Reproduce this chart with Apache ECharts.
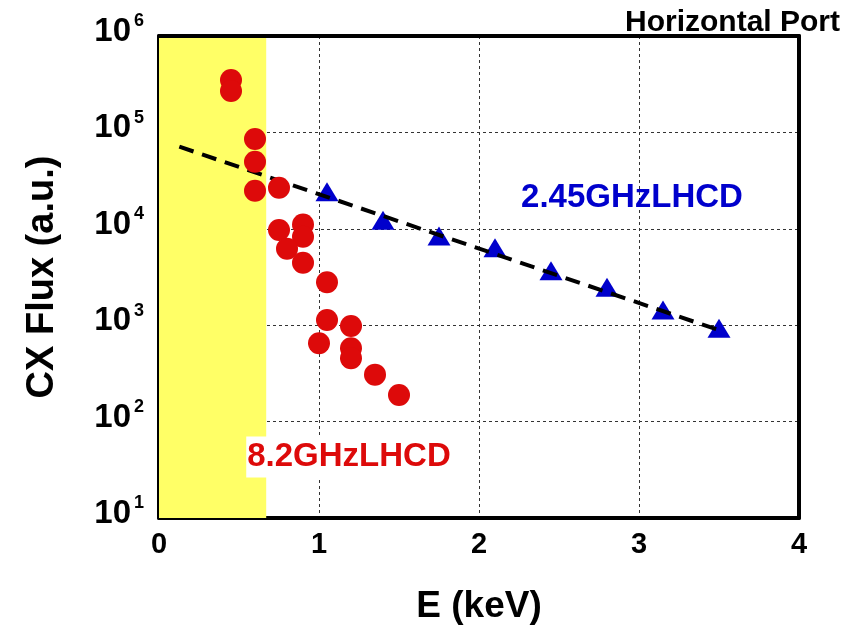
<!DOCTYPE html>
<html>
<head>
<meta charset="utf-8">
<script src="https://cdn.jsdelivr.net/npm/echarts@6/dist/echarts.min.js"></script>
<style>html,body{margin:0;padding:0;background:#fff}#c{width:856px;height:625px}</style>
</head>
<body>
<div id="c"></div>
<script>
// Data
const xTicks = [0, 1, 2, 3, 4];
const yTickExponents = [1, 2, 3, 4, 5, 6];
const lhcd82_E = [0.45, 0.45, 0.60, 0.60, 0.60, 0.75, 0.75, 0.90, 0.90, 0.80, 0.90, 1.05, 1.05, 1.20, 1.00, 1.20, 1.20, 1.35, 1.50];
const lhcd82_flux = [350000, 269000, 85500, 49700, 24800, 26700, 9700, 11100, 8280, 6220, 4450, 2790, 1130, 982, 649, 575, 454, 307, 189];
const lhcd245_E = [1.05, 1.40, 1.75, 2.10, 2.45, 2.80, 3.15, 3.50];
const lhcd245_flux = [24300, 12300, 8420, 6370, 3670, 2470, 1440, 929];
const fit_E = [0.127, 3.527];
const fit_flux = [71100, 857];
const bandRange = [0, 0.67];
const label245 = '2.45GHzLHCD';
const label82 = '8.2GHzLHCD';
const portLabel = 'Horizontal Port';

const FONT = "'Liberation Sans', Arial, sans-serif";
const chart = echarts.init(document.getElementById('c'), null, {renderer: 'canvas'});

const zip = (a, b) => a.map((v, i) => [v, b[i]]);

chart.setOption({
  animation: false,
  backgroundColor: '#fff',
  textStyle: {fontFamily: FONT},
  grid: {left: 159, top: 36, width: 640, height: 482, containLabel: false, outerBoundsMode: 'none'},
  xAxis: [{
    type: 'value', min: xTicks[0], max: xTicks[xTicks.length - 1], interval: 1,
    position: 'bottom', z: 0,
    axisLine: {onZero: false, lineStyle: {color: '#000', width: 4}},
    axisTick: {show: false},
    axisLabel: {fontSize: 29, fontWeight: 'bold', color: '#000', fontFamily: FONT, margin: 12},
    splitLine: {show: true, lineStyle: {color: '#333', width: 1, type: [3, 3]}},
    name: 'E (keV)', nameLocation: 'middle', nameGap: 70,
    nameTextStyle: {fontSize: 37, fontWeight: 'bold', color: '#000', fontFamily: FONT}
  }, {
    type: 'value', min: xTicks[0], max: xTicks[xTicks.length - 1], position: 'top', z: 10,
    axisLine: {onZero: false, lineStyle: {color: '#000', width: 4}},
    axisTick: {show: false}, axisLabel: {show: false}, splitLine: {show: false}
  }],
  yAxis: [{
    type: 'log', logBase: 10, min: Math.pow(10, yTickExponents[0]), max: Math.pow(10, yTickExponents[yTickExponents.length - 1]),
    position: 'left', z: 0,
    axisLine: {onZero: false, lineStyle: {color: '#000', width: 4}},
    axisTick: {show: false},
    axisLabel: {
      margin: 15,
      formatter: v => '{b|10}{s|' + Math.round(Math.log10(v)) + '}',
      rich: {
        b: {fontSize: 33, fontWeight: 'bold', color: '#000', fontFamily: FONT, padding: [0, 0, 8, 0]},
        s: {fontSize: 18, fontWeight: 'bold', color: '#000', fontFamily: FONT, padding: [0, 0, 29, 3]}
      }
    },
    splitLine: {show: true, lineStyle: {color: '#333', width: 1, type: [3, 3]}},
    name: 'CX Flux (a.u.)', nameLocation: 'middle', nameGap: 97,
    nameTextStyle: {fontSize: 38, fontWeight: 'bold', color: '#000', fontFamily: FONT}
  }, {
    type: 'log', logBase: 10, min: 10, max: 1e6, position: 'right', z: 10,
    axisLine: {onZero: false, lineStyle: {color: '#000', width: 4}},
    axisTick: {show: false}, axisLabel: {show: false}, splitLine: {show: false}
  }],
  series: [{
    type: 'scatter', data: [], z: -1, silent: true,
    markArea: {
      silent: true,
      itemStyle: {color: '#FFFF66', opacity: 1},
      data: [[{xAxis: bandRange[0]}, {xAxis: bandRange[1]}]]
    }
  }, {
    name: label245, type: 'scatter', z: 3,
    symbol: 'triangle', symbolSize: [23, 19],
    itemStyle: {color: '#0000CC', opacity: 1},
    data: zip(lhcd245_E, lhcd245_flux)
  }, {
    type: 'line', z: 4, symbol: 'none',
    lineStyle: {color: '#000', width: 4, type: [15, 9]},
    data: zip(fit_E, fit_flux)
  }, {
    name: label82, type: 'scatter', z: 5,
    symbol: 'circle', symbolSize: 22,
    itemStyle: {color: '#DD0A0A', opacity: 1},
    data: zip(lhcd82_E, lhcd82_flux)
  }],
  graphic: [{
    type: 'text', z: 0, x: 840, y: 23,
    style: {text: portLabel, font: 'bold 30px ' + FONT, fill: '#000', align: 'right', verticalAlign: 'middle'}
  }, {
    type: 'text', z: 50, x: 632, y: 198,
    style: {text: label245, font: 'bold 33px ' + FONT, fill: '#0000CC', align: 'center', verticalAlign: 'middle'}
  }, {
    type: 'text', z: 50, x: 349, y: 457,
    style: {text: label82, font: 'bold 33px ' + FONT, fill: '#DD0A0A', align: 'center', verticalAlign: 'middle',
      backgroundColor: '#fff', padding: [4, 1, 4, 1]}
  }]
});
</script>
</body>
</html>
